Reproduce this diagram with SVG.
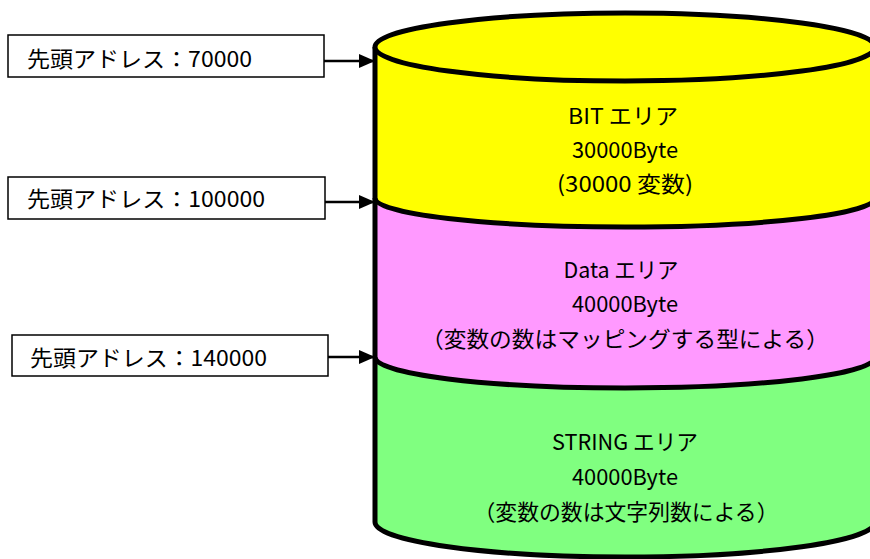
<svg xmlns="http://www.w3.org/2000/svg" width="870" height="559" viewBox="0 0 870 559">
<style>
.box{fill:#fff;stroke:#000;stroke-width:1.5}
.lbl{font-family:"Noto Sans CJK JP","Noto Sans",sans-serif;font-size:22px;fill:#000}
.ct{font-family:"Noto Sans CJK JP","Noto Sans",sans-serif;font-size:22px;fill:#000;text-anchor:middle}
.edge{stroke:#000;stroke-width:5;fill:none}
.conn{stroke:#000;stroke-width:2.5;fill:none}
</style>
<defs>
<marker id="ah" markerWidth="16" markerHeight="14" refX="15" refY="7" orient="auto" markerUnits="userSpaceOnUse">
<path d="M0,0 L16,7 L0,14 Z" fill="#000"/>
</marker>
</defs>
<g id="cylinder">
<path d="M375,357 L375,522 A250,35 0 0 0 875,522 L875,357 Z" fill="#80FF80"/>
<path d="M375,198 L375,357 A250,31 0 0 0 875,357 L875,198 Z" fill="#FF99FF"/>
<path d="M375,47 L375,198 A250,29 0 0 0 875,198 L875,47 Z" fill="#FFFF00"/>
<path class="edge" d="M375,198 A250,29 0 0 0 875,198"/>
<path class="edge" d="M375,357 A250,31 0 0 0 875,357"/>
<path class="edge" d="M375,47 L375,522 A250,35 0 0 0 875,522"/>
<ellipse cx="625" cy="47" rx="250" ry="34" fill="#FFFF00" stroke="#000" stroke-width="5"/>
</g>
<g id="bit">
<text class="ct" x="623" y="124" textLength="110" lengthAdjust="spacingAndGlyphs">BIT エリア</text>
<text class="ct" x="625" y="158" textLength="106" lengthAdjust="spacingAndGlyphs">30000Byte</text>
<text class="ct" x="625" y="192" textLength="136" lengthAdjust="spacingAndGlyphs">(30000 変数)</text>
</g>
<g id="data">
<text class="ct" x="621" y="278" textLength="115" lengthAdjust="spacingAndGlyphs">Data エリア</text>
<text class="ct" x="625" y="312" textLength="106" lengthAdjust="spacingAndGlyphs">40000Byte</text>
<text class="ct" x="625" y="347" textLength="408" lengthAdjust="spacingAndGlyphs">（変数の数はマッピングする型による）</text>
</g>
<g id="string">
<text class="ct" x="625" y="450" textLength="146" lengthAdjust="spacingAndGlyphs">STRING エリア</text>
<text class="ct" x="625" y="485" textLength="106" lengthAdjust="spacingAndGlyphs">40000Byte</text>
<text class="ct" x="626" y="520" textLength="305" lengthAdjust="spacingAndGlyphs">（変数の数は文字列数による）</text>
</g>
<g id="addr1">
<rect class="box" x="8" y="35" width="316" height="42"/>
<text class="lbl" x="27" y="67" textLength="225" lengthAdjust="spacingAndGlyphs">先頭アドレス：70000</text>
</g>
<g id="addr2">
<rect class="box" x="8" y="177" width="317" height="42"/>
<text class="lbl" x="27" y="207" textLength="238" lengthAdjust="spacingAndGlyphs">先頭アドレス：100000</text>
</g>
<g id="addr3">
<rect class="box" x="12" y="335" width="316" height="41"/>
<text class="lbl" x="30" y="366" textLength="237" lengthAdjust="spacingAndGlyphs">先頭アドレス：140000</text>
</g>
<g id="connectors">
<line class="conn" x1="324" y1="61" x2="374" y2="61" marker-end="url(#ah)"/>
<line class="conn" x1="325" y1="202" x2="374" y2="202" marker-end="url(#ah)"/>
<line class="conn" x1="328" y1="357" x2="374" y2="357" marker-end="url(#ah)"/>
</g>
</svg>
